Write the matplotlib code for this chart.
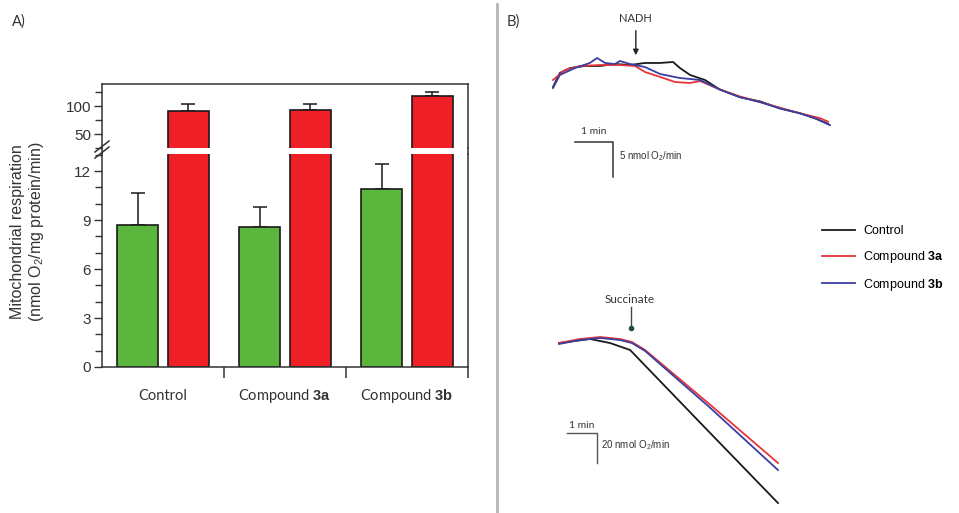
import matplotlib
matplotlib.use("Agg")
import matplotlib.pyplot as plt
from matplotlib.lines import Line2D
import numpy as np

plt.rcParams['font.family'] = ['Liberation Sans', 'DejaVu Sans']
plt.rcParams['mathtext.fontset'] = 'custom'
plt.rcParams['mathtext.rm'] = 'Liberation Sans'
plt.rcParams['mathtext.bf'] = 'Liberation Sans:bold'

# ---------------- data: panel A ----------------
categories = ['Control', 'Compound $\\mathbf{3a}$', 'Compound $\\mathbf{3b}$']
green_vals = [8.70, 8.59, 10.90]
green_err = [1.97, 1.19, 1.51]
red_vals = [91.0, 92.8, 117.9]
red_err = [12.6, 10.8, 7.1]

# ---------------- data: panel B (time in min, O2 in nmol, relative) ----------------
nadh_t_ctrl = [0, 0.18, 0.45, 0.84, 1.24, 1.63, 2.03, 2.42, 2.82, 3.16, 3.34, 3.61, 4.0, 4.39, 4.92, 5.45, 5.97, 6.5, 6.89, 7.24]
nadh_o2_ctrl = [-3.14, -1.14, -0.43, -0.14, -0.14, 0.14, 0.0, 0.29, 0.29, 0.43, -0.43, -1.43, -2.14, -3.5, -4.6, -5.2, -6.2, -6.9, -7.6, -8.4]
nadh_t_3a = [0, 0.32, 0.71, 1.24, 1.76, 2.16, 2.42, 2.82, 3.21, 3.61, 3.87, 4.39, 4.92, 5.45, 5.97, 6.5, 7.03, 7.24]
nadh_o2_3a = [-2.14, -0.71, -0.14, 0.0, 0.0, -0.14, -1.0, -1.71, -2.43, -2.57, -2.29, -3.5, -4.5, -5.3, -6.1, -6.9, -7.6, -8.1]
nadh_t_3b = [0, 0.18, 0.58, 0.97, 1.16, 1.37, 1.63, 1.76, 2.03, 2.42, 2.82, 3.34, 3.87, 4.39, 4.92, 5.45, 5.97, 6.5, 6.89, 7.29]
nadh_o2_3b = [-3.29, -1.43, -0.43, 0.29, 1.0, 0.29, 0.14, 0.57, 0.14, -0.29, -1.29, -1.86, -2.14, -3.5, -4.6, -5.3, -6.2, -6.9, -7.6, -8.6]

succ_t_ctrl = [0, 0.53, 1.03, 1.7, 2.37, 4.7, 7.3]
succ_o2_ctrl = [0, 1.33, 2.67, 0.0, -4.67, -53.0, -106.7]
succ_t_3a = [0, 0.7, 1.37, 2.03, 2.43, 2.87, 5.0, 7.3]
succ_o2_3a = [0, 2.67, 4.0, 2.67, 0.67, -4.67, -40.5, -80.0]
succ_t_3b = [0, 0.7, 1.37, 2.03, 2.43, 2.87, 5.0, 7.3]
succ_o2_3b = [-0.67, 2.0, 3.33, 2.0, 0.0, -5.33, -42.5, -84.7]

legend_labels = ['Control', 'Compound $\\mathbf{3a}$', 'Compound $\\mathbf{3b}$']
trace_colors = ['#1a1a1a', '#e8333a', '#3b3fa0']

GREEN = '#5bb63e'
RED = '#ee1f26'

W, H = 959, 513
fig = plt.figure(figsize=(W / 100, H / 100), dpi=100)


def fx(px):
    return px / W


def fy(py):
    return 1 - py / H


# ---------------- panel A axes ----------------
L, R = 102, 468
ax_lo = fig.add_axes([fx(L), fy(367), fx(R - L), (367 - 154) / H])
ax_hi = fig.add_axes([fx(L), fy(148), fx(R - L), (148 - 84) / H])

x = np.arange(len(categories))
off = 0.205
bw = 0.336
for ax in (ax_lo, ax_hi):
    ax.bar(x - off, green_vals, bw, color=GREEN, edgecolor='#1a1a1a', linewidth=1.2, zorder=2)
    ax.bar(x + off, red_vals, bw, color=RED, edgecolor='#1a1a1a', linewidth=1.2, zorder=2)
    ax.errorbar(x - off, green_vals, yerr=[np.zeros(3), green_err], fmt='none',
                ecolor='#1a1a1a', elinewidth=1.1, capsize=5, capthick=1.1, zorder=1)
    ax.errorbar(x + off, red_vals, yerr=[np.zeros(3), red_err], fmt='none',
                ecolor='#1a1a1a', elinewidth=1.1, capsize=5, capthick=1.1, zorder=1)
    ax.set_xlim(-0.5, 2.5)
    for s in ax.spines.values():
        s.set_linewidth(1.1)
        s.set_color('#333333')
    ax.tick_params(axis='y', direction='out', length=6, width=1, labelsize=11, pad=2, colors='#333333')
    ax.tick_params(axis='y', which='minor', direction='out', length=5, width=1, colors='#333333')

ax_lo.set_ylim(0, 13.05)
ax_lo.set_yticks([0, 3, 6, 9, 12])
ax_lo.set_yticks(np.arange(0, 14, 1), minor=True)
ax_lo.spines['top'].set_visible(False)
ax_lo.set_xticks([0.5, 1.5, 2.5])
ax_lo.set_xticklabels([])
ax_lo.tick_params(axis='x', direction='out', length=8, width=1.1, colors='#333333')
for i, c in enumerate(categories):
    ax_lo.text(i, -0.155, c, transform=ax_lo.get_xaxis_transform(), ha='center', va='baseline',
               fontsize=10.5, family=['Lato', 'DejaVu Sans'], color='#333333')

ax_hi.set_ylim(25, 139.3)
ax_hi.set_yticks([50, 100])
ax_hi.set_yticks([25, 75, 125], minor=True)
ax_hi.spines['bottom'].set_visible(False)
ax_hi.set_xticks([])

# spine continuity across gap
for px in (L, R):
    fig.add_artist(Line2D([fx(px), fx(px)], [fy(154), fy(148)], color='#333333', lw=1.1))
# break marks
for dy in (-3, 3):
    fig.add_artist(Line2D([fx(95), fx(109)], [fy(155 + dy), fy(144 + dy)], color='#333333', lw=1.1))

fig.text(fx(28), fy(232), 'Mitochondrial respiration\n(nmol O$_2$/mg protein/min)',
         rotation=90, ha='center', va='center', fontsize=11.5, linespacing=1.15,
         multialignment='center', color='#333333')

fig.text(fx(12), fy(22), 'A)', fontsize=10.5, va='center', ha='left', color='#333333',
         family=['Lato', 'DejaVu Sans'])
fig.text(fx(507), fy(22), 'B)', fontsize=10.5, va='center', ha='left', color='#333333',
         family=['Lato', 'DejaVu Sans'])
fig.add_artist(Line2D([fx(497), fx(497)], [fy(4), fy(513)], color='#b5b5b5', lw=2))

# ---------------- panel B: NADH ----------------
axn = fig.add_axes([fx(540), fy(180), fx(310), (180 - 10) / H])
axn.set_xlim((540 - 553) / 38, (850 - 553) / 38)
axn.set_ylim((65 - 180) / 7, (65 - 10) / 7)
axn.axis('off')
for t, o, col in zip([nadh_t_ctrl, nadh_t_3a, nadh_t_3b],
                     [nadh_o2_ctrl, nadh_o2_3a, nadh_o2_3b], trace_colors):
    axn.plot(t, o, color=col, lw=1.3)
# scale bar
axn.plot([0.58, 1.58, 1.58], [-11, -11, -16], color='#333333', lw=1.1)
axn.text(1.08, -10.2, '1 min', ha='center', va='bottom', fontsize=7.5, color='#333333',
         family=['Lato', 'DejaVu Sans'])
axn.text(1.73, -13.0, '5 nmol O$_2$/min', ha='left', va='center', fontsize=7, color='#333333')
axn.annotate('', xy=(2.18, 1.0), xytext=(2.18, 5.3),
             arrowprops=dict(arrowstyle='-|>', color='#222222', lw=1.0, mutation_scale=8))
axn.text(2.18, 6.7, 'NADH', ha='center', va='center', fontsize=8, color='#333333',
         family=['Lato', 'DejaVu Sans'])

# ---------------- panel B: Succinate ----------------
axs = fig.add_axes([fx(540), fy(510), fx(310), (510 - 290) / H])
axs.set_xlim((540 - 559) / 30, (850 - 559) / 30)
axs.set_ylim((343 - 510) / 1.5, (343 - 290) / 1.5)
axs.axis('off')
for t, o, col in zip([succ_t_ctrl, succ_t_3a, succ_t_3b],
                     [succ_o2_ctrl, succ_o2_3a, succ_o2_3b], trace_colors):
    axs.plot(t, o, color=col, lw=1.3)
axs.plot([0.27, 1.27, 1.27], [-60, -60, -80], color='#555555', lw=1.0)
axs.text(0.77, -58, '1 min', ha='center', va='bottom', fontsize=7.5, color='#333333',
         family=['Lato', 'DejaVu Sans'])
axs.text(1.4, -68, '20 nmol O$_2$/min', ha='left', va='center', fontsize=7, color='#333333')
axs.plot([2.4, 2.4], [24, 11.5], color='#444444', lw=1.0)
axs.plot([2.4], [10.3], 'o', color='#1f4f3a', ms=3)
axs.text(2.37, 28.7, 'Succinate', ha='center', va='center', fontsize=8.5, color='#333333',
         family=['Lato', 'DejaVu Sans'])

# ---------------- legend ----------------
handles = [Line2D([0], [0], color=c, lw=1.3) for c in trace_colors]
fig.legend(handles, legend_labels, loc='upper left', bbox_to_anchor=(fx(822), fy(225)),
           frameon=False, fontsize=9, handlelength=2.6, handletextpad=0.7, labelspacing=0.95,
           borderaxespad=0, borderpad=0)

fig.savefig('out.png', dpi=100)
